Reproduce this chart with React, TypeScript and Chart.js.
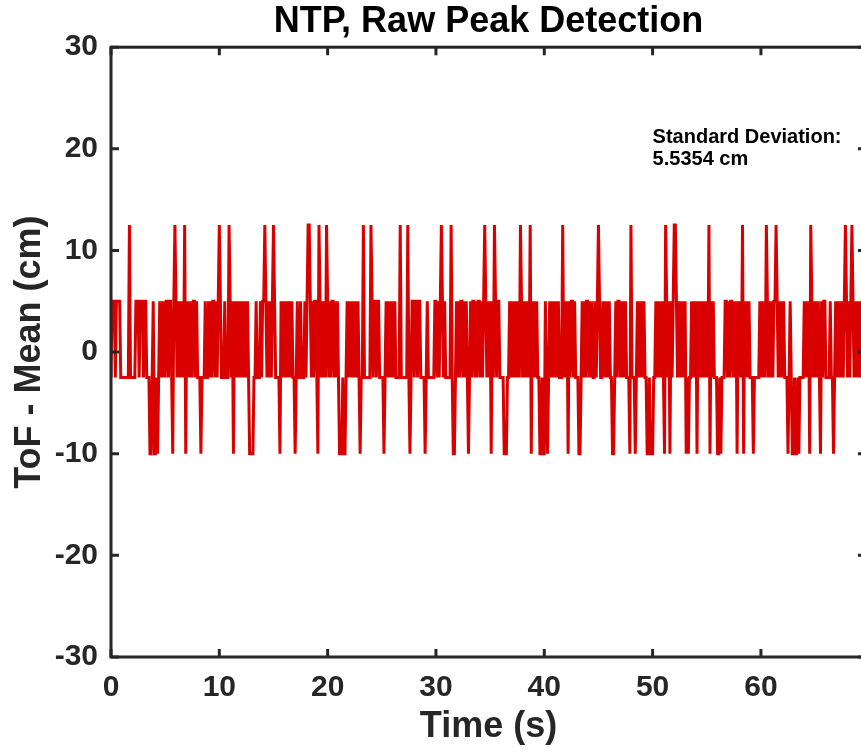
import { useEffect, useRef } from "react";
import { Chart, registerables } from "chart.js";

Chart.register(...registerables);

const chartTitle = "NTP, Raw Peak Detection";
const xLabel = "Time (s)";
const yLabel = "ToF - Mean (cm)";
const noteLines = ["Standard Deviation:", "5.5354 cm"];
const notePosition = [50, 20];
const xTicks = [0, 10, 20, 30, 40, 50, 60, 70];
const yTicks = [-30, -20, -10, 0, 10, 20, 30];
const xRange = [0, 69.7];
const yRange = [-30, 30];
const sampleStep = 0.1;
// quantised ToF levels (cm): H = 12.5, a = 5, b = -2.5, L = -10
const levelValues: Record<string, number> = { H: 12.5, a: 5, b: -2.5, L: -10 };
// one code per 0.1 s sample
const sampleRuns = [
  "b", "aaabaaaa", "bbbbbbb", "bHb", "bbbb", "aaaba", "aabaa", "bbb", "LLbaLLbLb",
  "abababaab", "aabLaHa", "bababab", "HL", "abababaa", "babbbLbbb", "abb",
  "ababaababaHab", "bbabbb", "H", "abaLab", "abababababa", "bLLLLb", "babbbaba",
  "aHabababaHab", "bbbL", "abababababab", "bLb", "abbabb", "bab", "aHH",
  "ababaabLH", "abababH", "ababaababa", "bLLLbLLb", "abababababa", "bLb", "bHb",
  "bbbb", "bH", "abaabaab", "bbbLb", "ababababab", "bbbHb", "bbbb", "bHb", "Lb",
  "aabaabaab", "bbbLb", "ab", "bbbbba", "ababaHabab", "bbbbH", "bLL", "b",
  "ababaababab", "L", "babaababaababaH", "ababaLabHaba", "abbbbLLLbb",
  "ababababab", "H", "abababab", "HL", "ababab", "bLLbLLabLb", "ababababab",
  "bbHb", "abaLabaabab", "bbLLb", "ababaabababbabaHabbabababab", "bLLb",
  "abaabababa", "bbbLHb", "bbLb", "abababab", "bLLbLLLbb", "ababababLHa",
  "baLabaHHa", "babababa", "LbLbb", "ababaLabababababH", "Labab", "bb", "LLbLb",
  "bb", "aababaabab", "aLa", "babHLa", "babab", "bbLbb", "bbb", "ababab", "H",
  "abababaaHababababb", "bLbabLLbLLbLbbbb", "ababaLHababa", "babLabaabbbbab",
  "bLb", "ababababaHababaHabababababab",
];

const FONT = "'Liberation Sans', Arial, Helvetica, sans-serif";
const AXIS_COLOR = "#262626";
const LINE_COLOR = "#D90000";

export default function App() {
  const canvasRef = useRef<HTMLCanvasElement | null>(null);

  useEffect(() => {
    const canvas = canvasRef.current;
    if (!canvas) return;
    const codes = sampleRuns.join("").split("");
    const points = codes.map((c, i) => ({
      x: Math.round(i * sampleStep * 10) / 10,
      y: levelValues[c],
    }));

    const frame = {
      id: "matlabFrame",
      afterDatasetsDraw(chart: any) {
        const { ctx, chartArea, scales } = chart;
        const { left, right, top, bottom } = chartArea;
        ctx.save();
        ctx.strokeStyle = AXIS_COLOR;
        ctx.lineWidth = 3;
        ctx.lineCap = "butt";
        ctx.strokeRect(left, top, right - left, bottom - top);
        const tl = 8;
        ctx.beginPath();
        for (const v of xTicks) {
          if (v < scales.x.min || v > scales.x.max) continue;
          const px = scales.x.getPixelForValue(v);
          ctx.moveTo(px, bottom);
          ctx.lineTo(px, bottom - tl);
          ctx.moveTo(px, top);
          ctx.lineTo(px, top + tl);
        }
        for (const v of yTicks) {
          const py = scales.y.getPixelForValue(v);
          ctx.moveTo(left, py);
          ctx.lineTo(left + tl, py);
          ctx.moveTo(right, py);
          ctx.lineTo(right - tl, py);
        }
        ctx.stroke();
        // annotation text
        const nx = scales.x.getPixelForValue(notePosition[0]);
        const ny = scales.y.getPixelForValue(notePosition[1]);
        ctx.fillStyle = "#000";
        ctx.font = `bold 20px ${FONT}`;
        ctx.textAlign = "left";
        ctx.textBaseline = "middle";
        const lh = 22;
        noteLines.forEach((t, i) => {
          ctx.fillText(t, nx, ny + (i - (noteLines.length - 1) / 2) * lh);
        });
        ctx.restore();
      },
    };

    const chart = new Chart(canvas, {
      type: "line",
      data: {
        datasets: [
          {
            data: points,
            borderColor: LINE_COLOR,
            borderWidth: 3,
            pointRadius: 0,
            tension: 0,
            fill: false,
          },
        ],
      },
      options: {
        responsive: false,
        animation: false,
        layout: { padding: { left: 0, right: 14, top: 0, bottom: 0 } },
        plugins: {
          legend: { display: false },
          tooltip: { enabled: false },
          title: {
            display: true,
            text: chartTitle,
            color: "#000",
            fullSize: false,
            font: { family: FONT, size: 36, weight: "bold" },
            padding: { top: 0, bottom: 4 },
          },
        },
        scales: {
          x: {
            type: "linear",
            min: xRange[0],
            max: xRange[1],
            grid: { display: false, drawTicks: false },
            border: { display: false },
            afterBuildTicks: (scale: any) => {
              scale.ticks = xTicks
                .filter((v) => v >= scale.min && v <= scale.max)
                .map((v) => ({ value: v }));
            },
            afterFit: (scale: any) => {
              scale.height = 95;
            },
            ticks: {
              color: AXIS_COLOR,
              font: { family: FONT, size: 30, weight: "bold" },
              padding: 13,
              maxRotation: 0,
              autoSkip: false,
              callback: (v: any) => String(v),
            },
            title: {
              display: true,
              text: xLabel,
              color: AXIS_COLOR,
              font: { family: FONT, size: 36, weight: "bold" },
              padding: { top: 0, bottom: 3 },
            },
          },
          y: {
            type: "linear",
            min: yRange[0],
            max: yRange[1],
            grid: { display: false, drawTicks: false },
            border: { display: false },
            afterBuildTicks: (scale: any) => {
              scale.ticks = yTicks.map((v) => ({ value: v }));
            },
            afterFit: (scale: any) => {
              scale.width = 111;
            },
            ticks: {
              color: AXIS_COLOR,
              font: { family: FONT, size: 30, weight: "bold" },
              padding: 13,
              autoSkip: false,
              callback: (v: any) => String(v),
            },
            title: {
              display: true,
              text: yLabel,
              color: AXIS_COLOR,
              font: { family: FONT, size: 36, weight: "bold" },
              padding: { top: 8, bottom: 0 },
            },
          },
        },
      },
      plugins: [frame],
    } as any);

    return () => chart.destroy();
  }, []);

  return (
    <div
      style={{
        position: "fixed",
        left: 0,
        top: 0,
        width: 861,
        height: 752,
        overflow: "hidden",
        background: "#fff",
      }}
    >
      <canvas
        ref={canvasRef}
        width={880}
        height={752}
        style={{ width: 880, height: 752, display: "block" }}
      />
    </div>
  );
}
